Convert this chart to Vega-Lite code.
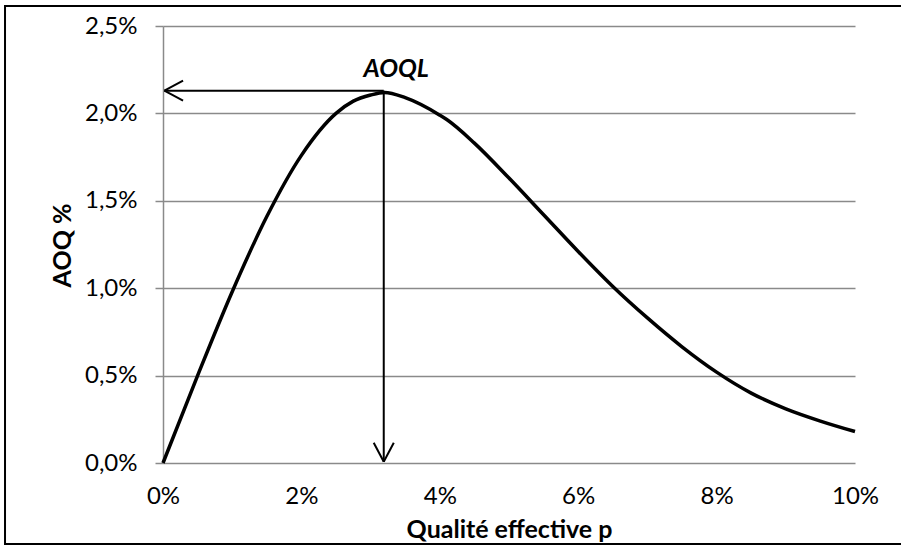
{
  "$schema": "https://vega.github.io/schema/vega-lite/v6.json",
  "width": 692,
  "height": 437,
  "autosize": {"type": "none"},
  "padding": {"left": 163, "top": 26, "right": 46, "bottom": 83},
  "background": "white",
  "config": {
    "view": {"stroke": null},
    "font": "Lato",
    "axisX": {
      "grid": false, "ticks": false, "domain": false,
      "labelFont": "Lato", "labelFontSize": 24, "labelColor": "black", "labelPadding": 21,
      "labelFlush": false,
      "titleFont": "Lato", "titleFontSize": 25, "titleFontWeight": "bold", "titleColor": "black",
      "titleY": 66, "titleBaseline": "middle"
    },
    "axisY": {
      "grid": true, "gridColor": "#8a8a8a", "gridWidth": 1.5,
      "ticks": true, "tickSize": 8, "tickColor": "#8a8a8a", "tickWidth": 1.5,
      "domain": true, "domainColor": "#8a8a8a", "domainWidth": 1.5,
      "labelFont": "Lato", "labelFontSize": 24, "labelColor": "black", "labelPadding": 18,
      "labelFlush": false,
      "titleFont": "Lato", "titleFontSize": 25, "titleFontWeight": "bold", "titleColor": "black",
      "titleX": -101, "titleY": 219, "titleBaseline": "middle", "titleAlign": "center"
    }
  },
  "datasets": {
    "curve": [
      {"p": 0, "aoq": 0}, {"p": 0.5, "aoq": 0.5}, {"p": 1.0, "aoq": 0.98}, {"p": 1.5, "aoq": 1.41},
      {"p": 2.0, "aoq": 1.76}, {"p": 2.5, "aoq": 2.0}, {"p": 2.75, "aoq": 2.07}, {"p": 3.0, "aoq": 2.105}, {"p": 3.2, "aoq": 2.12},
      {"p": 3.5, "aoq": 2.09}, {"p": 4.0, "aoq": 1.99}, {"p": 4.1, "aoq": 1.965}, {"p": 4.5, "aoq": 1.83},
      {"p": 5.0, "aoq": 1.63}, {"p": 5.5, "aoq": 1.42}, {"p": 6.0, "aoq": 1.21}, {"p": 6.5, "aoq": 1.01},
      {"p": 7.0, "aoq": 0.83}, {"p": 7.5, "aoq": 0.665}, {"p": 8.0, "aoq": 0.52}, {"p": 8.5, "aoq": 0.40},
      {"p": 9.0, "aoq": 0.31}, {"p": 9.5, "aoq": 0.24}, {"p": 10.0, "aoq": 0.18}
    ],
    "arrows": [
      {"p": 0.02, "aoq": 2.13, "p2": 3.19, "aoq2": 2.13},
      {"p": 0.02, "aoq": 2.13, "p2": 0.29, "aoq2": 2.187},
      {"p": 0.02, "aoq": 2.13, "p2": 0.29, "aoq2": 2.073},
      {"p": 3.19, "aoq": 2.13, "p2": 3.19, "aoq2": 0.007},
      {"p": 3.19, "aoq": 0.007, "p2": 3.045, "aoq2": 0.116},
      {"p": 3.19, "aoq": 0.007, "p2": 3.335, "aoq2": 0.116}
    ],
    "labels": [{"text": "AOQL", "p": 3.37, "aoq": 2.254}]
  },
  "layer": [
    {
      "data": {"name": "curve"},
      "mark": {"type": "line", "color": "black", "strokeWidth": 3.5, "interpolate": "monotone", "clip": false},
      "encoding": {
        "x": {
          "field": "p", "type": "quantitative",
          "scale": {"domain": [0, 10], "nice": false, "zero": false},
          "title": "Qualité effective p",
          "axis": {"values": [0, 2, 4, 6, 8, 10], "labelExpr": "format(datum.value, 'd') + '%'"}
        },
        "y": {
          "field": "aoq", "type": "quantitative",
          "scale": {"domain": [0, 2.5], "nice": false, "zero": false},
          "title": "AOQ %",
          "axis": {"values": [0, 0.5, 1, 1.5, 2, 2.5], "labelExpr": "replace(format(datum.value, '.1f'), '.', ',') + '%'"}
        }
      }
    },
    {
      "data": {"name": "arrows"},
      "mark": {"type": "rule", "color": "black", "strokeWidth": 2, "clip": false},
      "encoding": {
        "x": {"field": "p", "type": "quantitative"},
        "x2": {"field": "p2"},
        "y": {"field": "aoq", "type": "quantitative"},
        "y2": {"field": "aoq2"}
      }
    },
    {
      "data": {"name": "labels"},
      "mark": {"type": "text", "font": "Lato", "fontSize": 25, "fontWeight": "bold", "fontStyle": "italic", "color": "black", "clip": false},
      "encoding": {
        "x": {"field": "p", "type": "quantitative"},
        "y": {"field": "aoq", "type": "quantitative"},
        "text": {"field": "text"}
      }
    },
    {
      "data": {"values": [{}]},
      "mark": {"type": "rect", "fill": null, "stroke": "black", "strokeWidth": 2, "clip": false},
      "encoding": {
        "x": {"datum": -2.283, "type": "quantitative"},
        "x2": {"datum": 10.75},
        "y": {"datum": 2.614, "type": "quantitative"},
        "y2": {"datum": -0.463}
      }
    }
  ]
}
